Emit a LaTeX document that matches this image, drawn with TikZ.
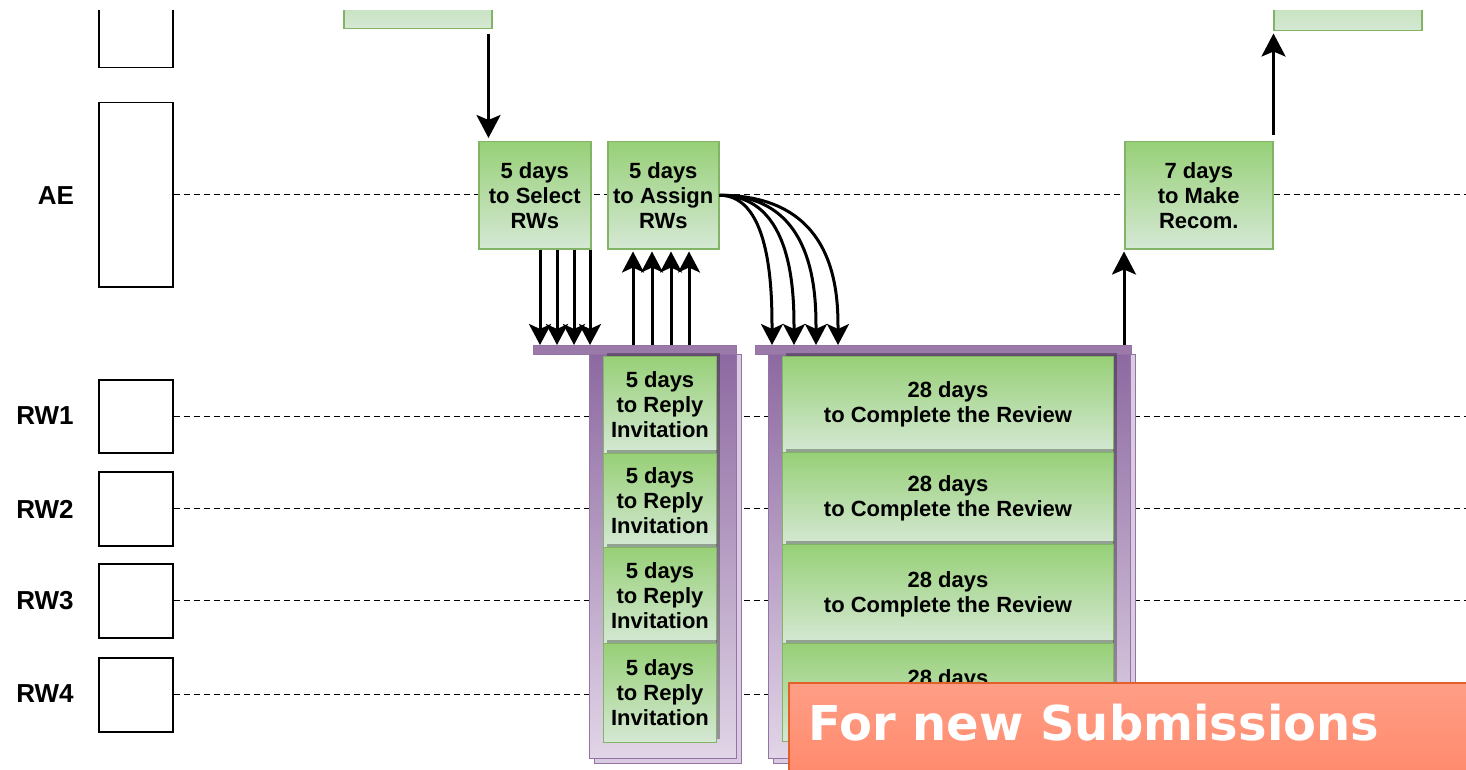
\documentclass[tikz,border=0pt]{standalone}
\usepackage{fontspec}
\setmainfont{Liberation Sans}
\newfontfamily\bannerfont{DejaVu Sans}
\usetikzlibrary{arrows.meta,shadows}

\definecolor{taskline}{HTML}{82B366}
\definecolor{tasktop}{HTML}{97D077}
\definecolor{taskbottom}{HTML}{D5E8D4}
\definecolor{frameline}{HTML}{9673A6}
\definecolor{frametop}{HTML}{8C68A0}
\definecolor{framebottom}{HTML}{E1D5E7}
\definecolor{bannerline}{HTML}{E3602B}
\definecolor{bannertop}{HTML}{FF9E86}
\definecolor{bannerbottom}{HTML}{FF8A6C}

\tikzset{every picture/.style={line width=0.75pt}}
\tikzset{
  lanebox/.style={draw, line width=1.5pt, fill=white, inner sep=0pt, minimum width=74pt},
  lanelabel/.style={inner sep=0pt, font=\fontsize{26}{30}\selectfont\bfseries},
  lifeline/.style={line width=1.1pt, dash pattern=on 6pt off 4pt},
  taskbox/.style={draw=taskline, line width=1.5pt, top color=tasktop, bottom color=taskbottom, inner sep=0pt, align=center, font=\fontsize{22}{25}\selectfont\bfseries},
  cellbox/.style={taskbox, line width=1pt, drop shadow={shadow xshift=3pt, shadow yshift=4pt, opacity=0.3, fill=black}},
  frameback/.style={draw=frameline, fill=framebottom!90!frameline, line width=1pt},
  framefront/.style={draw=frameline, line width=1pt, top color=frametop, bottom color=framebottom, inner sep=0pt},
  framebar/.style={draw=frameline, fill=frameline!95!white, line width=1pt, inner sep=0pt, minimum height=9pt},
  msg/.style={-{Stealth[length=23pt,width=24pt,inset=5pt]}, line width=3pt},
  fanmsg/.style={-{Stealth[length=21pt,width=22pt,inset=5pt]}, line width=3pt},
  banner/.style={draw=bannerline, line width=2pt, top color=bannertop, bottom color=bannerbottom, inner sep=0pt},
}

\begin{document}
\begin{tikzpicture}[x=1pt,y=1pt,yscale=-1]
\useasboundingbox (0,0) rectangle (1466,770);

%Shape: Lane boxes
\node[lanebox, anchor=north west, minimum height=184pt] (laneAE) at (98,102) {};
\node[lanebox, anchor=north west, minimum height=73pt] (laneRW1) at (98,379) {};
\node[lanebox, anchor=north west, minimum height=74pt] (laneRW2) at (98,471) {};
\node[lanebox, anchor=north west, minimum height=74pt] (laneRW3) at (98,563) {};
\node[lanebox, anchor=north west, minimum height=74pt] (laneRW4) at (98,657) {};

% Text Node
\node[lanelabel] (lblAE) at (56,196) {AE};
% Text Node
\node[lanelabel] (lblRW1) at (45,416) {RW1};
% Text Node
\node[lanelabel] (lblRW2) at (45,509) {RW2};
% Text Node
\node[lanelabel] (lblRW3) at (45,601) {RW3};
% Text Node
\node[lanelabel] (lblRW4) at (45,694) {RW4};

%Dashed Lines
\coordinate (farright) at (1466,0);
\draw[lifeline] (laneAE.east) -- (laneAE.east -| farright);
\draw[lifeline] (laneRW1.east) -- (laneRW1.east -| farright);
\draw[lifeline] (laneRW2.east) -- (laneRW2.east -| farright);
\draw[lifeline] (laneRW3.east) -- (laneRW3.east -| farright);
\draw[lifeline] (laneRW4.east) -- (laneRW4.east -| farright);

%Shape: cut boxes at the top
\begin{scope}
\clip (0,11) rectangle (1466,770);
\node[lanebox, anchor=north west, minimum height=107pt] (laneTop) at (98,-40) {};
\node[taskbox, anchor=north west, minimum width=148pt, minimum height=107pt] (prevtask) at (343,-79) {};
\node[taskbox, anchor=north west, minimum width=148pt, minimum height=107pt] (nexttask) at (1273,-77) {};
\end{scope}

%Shape: Reply frame
\draw[frameback] (594,354) rectangle (741,763);
\node[framefront, anchor=north west, minimum width=147pt, minimum height=409pt] (replyframe) at (589,349) {};
\node[framebar, anchor=north west, minimum width=203pt] (replybar) at (533,345) {};
\node[cellbox, anchor=north west, minimum width=113pt, minimum height=97pt] (reply1) at (603,356) {5 days\\to Reply\\Invitation};
\node[cellbox, anchor=north west, minimum width=113pt, minimum height=94pt] (reply2) at (603,453) {5 days\\to Reply\\Invitation};
\node[cellbox, anchor=north west, minimum width=113pt, minimum height=96pt] (reply3) at (603,547) {5 days\\to Reply\\Invitation};
\node[cellbox, anchor=north west, minimum width=113pt, minimum height=99pt] (reply4) at (603,643) {5 days\\to Reply\\Invitation};

%Shape: Review frame
\draw[frameback] (773,354) rectangle (1135,763);
\node[framefront, anchor=north west, minimum width=362pt, minimum height=409pt] (reviewframe) at (768,349) {};
\node[framebar, anchor=north west, minimum width=376pt] (reviewbar) at (755,345) {};
\node[cellbox, anchor=north west, minimum width=331pt, minimum height=96pt] (review1) at (782,356) {28 days\\to Complete the Review};
\node[cellbox, anchor=north west, minimum width=331pt, minimum height=92pt] (review2) at (782,452) {28 days\\to Complete the Review};
\node[cellbox, anchor=north west, minimum width=331pt, minimum height=99pt] (review3) at (782,544) {28 days\\to Complete the Review};
\node[cellbox, anchor=north west, minimum width=331pt, minimum height=98pt] (review4) at (782,643) {28 days\\to Complete the Review};

%Shape: AE tasks
\node[taskbox, anchor=north west, minimum width=112pt, minimum height=107pt] (selRW) at (478,141) {5 days\\to Select\\RWs};
\node[taskbox, anchor=north west, minimum width=111pt, minimum height=107pt] (asgRW) at (607,141) {5 days\\to Assign\\RWs};
\node[taskbox, anchor=north west, minimum width=148pt, minimum height=107pt] (recom) at (1124,141) {7 days\\to Make\\Recom.};

%Straight Lines
\draw[msg, shorten <=5pt, shorten >=3pt] ([xshift=-4pt]prevtask.south east) -- ([xshift=-4pt]prevtask.south east |- selRW.north);

\coordinate (rpin1) at (540,345);
\coordinate (rpin2) at (557,345);
\coordinate (rpin3) at (574,345);
\coordinate (rpin4) at (590,345);
\draw[fanmsg] (rpin1 |- selRW.south) -- (rpin1);
\draw[fanmsg] (rpin2 |- selRW.south) -- (rpin2);
\draw[fanmsg] (rpin3 |- selRW.south) -- (rpin3);
\draw[fanmsg] (rpin4 |- selRW.south) -- (rpin4);

\coordinate (rpout1) at (633,345);
\coordinate (rpout2) at (652,345);
\coordinate (rpout3) at (671,345);
\coordinate (rpout4) at (689,345);
\draw[fanmsg, shorten >=2pt] (rpout1) -- (rpout1 |- asgRW.south);
\draw[fanmsg, shorten >=2pt] (rpout2) -- (rpout2 |- asgRW.south);
\draw[fanmsg, shorten >=2pt] (rpout3) -- (rpout3 |- asgRW.south);
\draw[fanmsg, shorten >=2pt] (rpout4) -- (rpout4 |- asgRW.south);

%Curve Lines
\coordinate (rvin1) at (772,345);
\coordinate (rvin2) at (794,345);
\coordinate (rvin3) at (816,345);
\coordinate (rvin4) at (838,345);
\coordinate (bend) at (0,295);
\draw[fanmsg] (asgRW.east) .. controls (asgRW.east -| rvin1) and (rvin1 |- bend) .. (rvin1);
\draw[fanmsg] (asgRW.east) .. controls (asgRW.east -| rvin2) and (rvin2 |- bend) .. (rvin2);
\draw[fanmsg] (asgRW.east) .. controls (asgRW.east -| rvin3) and (rvin3 |- bend) .. (rvin3);
\draw[fanmsg] (asgRW.east) .. controls (asgRW.east -| rvin4) and (rvin4 |- bend) .. (rvin4);

%Straight Lines
\draw[msg, shorten >=2pt] (recom.south west |- reviewbar.north) -- (recom.south west);
\draw[msg, shorten <=6pt, shorten >=2pt] (recom.north east) -- (recom.north east |- nexttask.south);

%Shape: Banner
\node[banner, anchor=north west, minimum width=682pt, minimum height=92pt] (newsub) at (788,682) {};
% Text Node
\node[anchor=base west, inner sep=0pt, text=white, font=\bannerfont\fontsize{48}{56}\selectfont\bfseries] (newsubtext) at (808,740) {For new Submissions};

\end{tikzpicture}
\end{document}
